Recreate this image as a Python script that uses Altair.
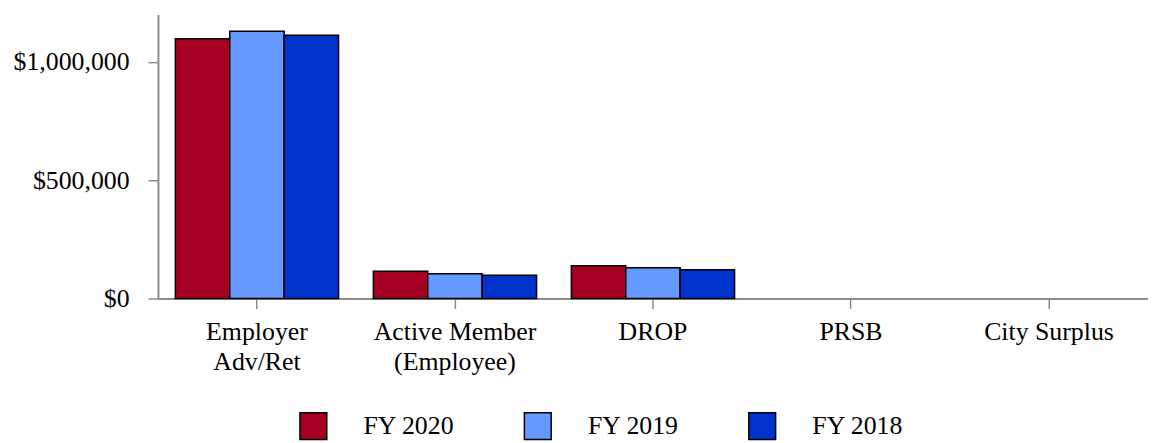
import altair as alt
import pandas as pd

categories = ["Employer\nAdv/Ret", "Active Member\n(Employee)", "DROP", "PRSB", "City Surplus"]
series = ["FY 2020", "FY 2019", "FY 2018"]
fy2020 = [1097000, 114600, 138500, 0, 0]
fy2019 = [1128800, 104900, 130100, 0, 0]
fy2018 = [1112000, 97800, 121700, 0, 0]
colors = ["#A50021", "#6699FF", "#0033CC"]

rows = []
for s, vals in zip(series, [fy2020, fy2019, fy2018]):
    for c, v in zip(categories, vals):
        rows.append({"category": c, "series": s, "value": v})
df = pd.DataFrame(rows)

FONT = "Liberation Serif"
AXIS_GRAY = "#8c8c8c"

chart = alt.Chart(df).mark_bar(stroke="black", strokeWidth=1.5).encode(
    x=alt.X(
        "category:N",
        sort=categories,
        scale=alt.Scale(paddingInner=0, paddingOuter=0),
        axis=alt.Axis(
            title=None,
            labelAngle=0,
            labelExpr="split(datum.label, '\\n')",
            labelFont=FONT,
            labelFontSize=26,
            labelColor="black",
            labelLineHeight=31,
            labelPadding=10,
            labelLimit=400,
            tickSize=10,
            tickColor=AXIS_GRAY,
            tickWidth=1.5,
            domainColor=AXIS_GRAY,
            domainWidth=2,
        ),
    ),
    xOffset=alt.XOffset(
        "series:N",
        sort=series,
        scale=alt.Scale(domain=series, paddingInner=0, paddingOuter=0.32),
    ),
    y=alt.Y(
        "value:Q",
        scale=alt.Scale(domain=[0, 1200000], nice=False),
        axis=alt.Axis(
            title=None,
            values=[0, 500000, 1000000],
            format="$,.0f",
            grid=False,
            labelFont=FONT,
            labelFontSize=26,
            labelColor="black",
            labelPadding=19,
            tickSize=10,
            tickColor=AXIS_GRAY,
            tickWidth=1.5,
            domainColor=AXIS_GRAY,
            domainWidth=2,
        ),
    ),
    color=alt.Color(
        "series:N",
        sort=series,
        scale=alt.Scale(domain=series, range=colors),
        legend=alt.Legend(
            title=None,
            orient="none",
            legendX=142,
            legendY=400,
            direction="horizontal",
            symbolType="square",
            symbolSize=729,
            symbolStrokeColor="black",
            symbolStrokeWidth=1.5,
            symbolOpacity=1,
            labelFont=FONT,
            labelFontSize=26,
            labelColor="black",
            labelOffset=36,
            columnPadding=67,
            padding=0,
        ),
    ),
    strokeOpacity=alt.condition(alt.datum.value > 0, alt.value(1), alt.value(0)),
).properties(
    width=997,
    height=286,
    padding={"left": 5, "top": 5, "right": 0, "bottom": 0},
).configure_view(stroke=None)

chart.save("out.html", embed_options={"renderer": "svg", "actions": False})
